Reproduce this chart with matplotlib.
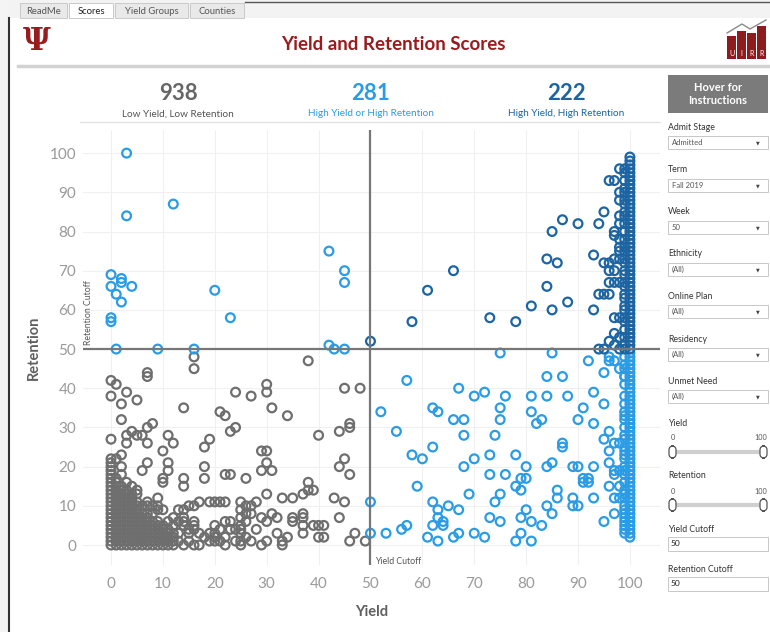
import matplotlib
matplotlib.use("Agg")
import matplotlib.pyplot as plt
from matplotlib.patches import Rectangle, FancyBboxPatch
from matplotlib.lines import Line2D
import numpy as np

plt.rcParams['font.family'] = ['Lato', 'DejaVu Sans']

yield_cutoff = 50
retention_cutoff = 50

kpi_values = ["938", "281", "222"]
kpi_labels = ["Low Yield, Low Retention", "High Yield or High Retention", "High Yield, High Retention"]

# dense stacks of low-yield students (yield value, retention values)
dense_x = [0, 1, 2, 3, 4, 5, 6, 7, 8, 9, 10, 11, 12]
dense_y = [
    [0, 1, 2, 3, 4, 5, 6, 7, 8, 9, 10, 11, 12, 13, 14, 15, 16, 17, 18, 19, 20, 21, 22],
    [0, 1, 2, 3, 4, 5, 6, 7, 8, 9, 10, 11, 12, 13, 14, 15, 16, 17],
    [0, 1, 2, 3, 4, 5, 6, 7, 8, 9, 10, 11, 12, 13, 14, 15],
    [0, 1, 2, 3, 4, 5, 6, 7, 8, 9, 10, 11, 12, 13, 14],
    [0, 1, 2, 3, 4, 5, 6, 7, 8, 9, 10, 11, 12, 13],
    [0, 1, 2, 3, 4, 5, 6, 7, 8, 9, 10, 11, 13],
    [0, 1, 2, 3, 4, 5, 6, 7, 8, 10],
    [0, 1, 2, 3, 4, 5, 6, 7, 8, 10, 11],
    [0, 1, 2, 3, 4, 5, 6, 8],
    [0, 1, 2, 3, 4, 5, 6, 9, 10, 12],
    [0, 1, 2, 3, 4, 5],
    [0, 1, 2, 3, 4, 6],
    [0, 1, 2, 3, 5, 7],
]

# scattered students
other_x = [0, 1, 0, 3, 2, 5, 7, 7, 2, 0, 3, 3, 4, 5, 6, 7, 8, 7, 1, 2, 2, 2, 7, 6,
           10, 11, 12, 11, 11, 10, 10, 14, 14, 14, 18, 19, 18, 18, 21, 22, 23, 24, 22, 23,
           24, 27, 26, 29, 30, 30, 30, 31, 30, 29, 31, 34, 30, 33, 35, 38, 40, 38, 39, 37,
           38, 43, 45, 45, 48, 44, 46, 46, 45, 44, 46, 44, 47, 46, 49, 40, 39, 41, 40, 41,
           35, 35, 37, 37, 37, 37, 34, 33, 32, 33, 29, 30, 32, 31, 30, 29, 16, 16,
           15, 16, 17, 19, 20, 21, 22, 25, 26, 27, 28, 13, 14, 25, 26, 27, 14, 25,
           13, 14, 16, 22, 23, 26, 14, 16, 20, 25, 15, 16, 21, 23, 24, 25, 28,
           13, 15, 17, 19, 20, 25, 18, 20, 22, 26, 13, 15, 19, 20, 21, 24, 25, 27,
           14, 16, 17, 22, 25, 10, 8, 4, 5, 3,
           # top-left (high retention)
           3, 12, 3, 42, 45, 45, 0, 2, 2, 0, 4, 1, 2, 20, 23, 0, 0, 1, 9, 16, 42, 43, 45,
           # right side, low retention
           75, 85, 92, 96, 96, 97, 98, 99, 95, 99, 84, 87, 57, 67, 93, 72, 70, 76, 81, 84,
           88, 95, 52, 62, 63, 75, 81, 91, 66, 68, 75, 83, 82, 90, 93, 55, 68, 74, 96, 95,
           97, 98, 87, 87, 62, 96, 58, 60, 70, 73, 78, 85, 84, 68, 80, 89, 90, 93, 96, 97,
           98, 97, 73, 76, 79, 80, 91, 92, 91, 92, 59, 78, 79, 96, 86, 86, 69, 75, 89, 89,
           90, 93, 98, 50, 62, 74, 65, 84, 63, 63, 67, 80, 85, 97, 64, 64, 62, 57, 56, 73,
           75, 79, 81, 83, 95, 50, 53, 61, 63, 66, 67, 70, 72, 78, 79, 81, 98, 97,
           # high yield, high retention
           50, 58, 61, 66, 73, 78, 81, 84, 86, 84, 85, 85, 88, 87, 90, 94, 95, 93, 93, 94,
           95, 96, 95, 96, 96, 97, 96, 97, 98, 97, 98, 97, 98, 97, 98, 97, 96, 97, 94, 95,
           98, 98, 97, 96, 98, 98, 98, 98, 98, 97, 98, 98]
other_y = [42, 41, 38, 39, 36, 37, 44, 43, 32, 27, 28, 26, 29, 28, 28, 30, 31, 26, 22, 23, 20, 18, 21, 19,
           24, 28, 26, 21, 19, 17, 16, 35, 17, 15, 25, 27, 20, 17, 34, 33, 29, 30, 18, 18,
           39, 38, 17, 24, 24, 41, 39, 35, 21, 19, 19, 33, 13, 12, 12, 47, 28, 16, 14, 13,
           14, 12, 11, 40, 40, 29, 31, 30, 22, 20, 18, 7, 3, 1, 1, 5, 5, 5, 2, 2,
           7, 6, 8, 7, 5, 3, 2, 1, 3, 0, 0, 1, 7, 8, 6, 7, 48, 45,
           10, 10, 11, 11, 11, 11, 11, 11, 10, 10, 11, 9, 9, 9, 8, 8, 7, 7,
           6, 6, 6, 6, 6, 6, 5, 5, 5, 5, 4, 4, 4, 4, 4, 4, 4,
           3, 3, 3, 3, 3, 3, 2, 2, 2, 2, 1, 1, 1, 1, 1, 1, 1, 1,
           0, 0, 0, 0, 0, 9, 10, 15, 14, 16,
           100, 87, 84, 75, 70, 67, 69, 68, 67, 66, 66, 64, 62, 65, 58, 58, 57, 50, 50, 50, 51, 50, 50,
           49, 49, 47, 48, 47, 47, 45, 45, 44, 43, 43, 43, 42, 40, 39, 39, 38, 38, 38, 38,
           38, 36, 34, 35, 34, 35, 34, 35, 32, 32, 32, 32, 31, 32, 31, 29, 28, 28, 29, 27,
           26, 26, 26, 25, 25, 24, 23, 22, 22, 23, 23, 21, 20, 20, 20, 20, 20, 20, 21, 19,
           19, 18, 18, 18, 17, 17, 17, 17, 16, 16, 15, 15, 14, 15, 14, 12, 13, 13, 12, 10,
           10, 12, 12, 11, 11, 11, 10, 10, 9, 7, 9, 9, 8, 8, 6, 5, 5, 5, 4, 7,
           6, 7, 6, 5, 6, 3, 3, 2, 1, 2, 3, 3, 2, 1, 3, 1, 15, 12,
           52, 57, 65, 70, 58, 57, 61, 73, 72, 66, 80, 60, 62, 83, 82, 82, 85, 74, 60, 64,
           64, 64, 72, 72, 70, 70, 67, 67, 67, 73, 73, 80, 78, 58, 58, 54, 52, 51, 50, 50,
           50, 53, 93, 93, 96, 82, 84, 88, 90, 79, 76, 75]

# students stacked at yield 99 and 100
col99_y = [3, 4, 5, 6, 7, 8, 9, 10, 12, 13, 14, 16, 18, 19, 20, 22, 23, 24, 25, 27, 28, 30,
           32, 33, 34, 36, 38, 41, 43, 46, 48,
           50, 51, 53, 55, 57, 58, 60, 61, 63, 64, 66, 67, 69, 70, 72, 73, 75, 76, 78, 80,
           82, 84, 85, 87, 88, 90, 91, 93, 95, 96]
col100_y = [2, 3, 4, 5, 6, 7, 8, 9, 10, 11, 12, 13, 14, 15, 16, 17, 18, 19, 20, 21, 22, 23,
            24, 25, 26, 27, 28, 29, 30, 31, 32, 33, 34, 35, 36, 37, 38, 39, 40, 41, 42, 43,
            44, 45, 46, 47, 48, 49, 50, 51, 52, 53, 54, 55, 56, 57, 58, 59, 60, 61, 62, 63,
            64, 65, 66, 67, 68, 69, 70, 71, 72, 73, 74, 75, 76, 77, 78, 79, 80, 81, 82, 83,
            84, 85, 86, 87, 88, 89, 90, 91, 92, 93, 94, 95, 96, 97, 98, 99]

# filter panel
filter_names = ["Admit Stage", "Term", "Week", "Ethnicity", "Online Plan", "Residency", "Unmet Need"]
filter_values = ["Admitted", "Fall 2019", "50", "(All)", "(All)", "(All)", "(All)"]
slider_names = ["Yield", "Retention"]
cutoff_names = ["Yield Cutoff", "Retention Cutoff"]
cutoff_values = ["50", "50"]

GREY = "#6e6e6e"
LIGHT = "#2a9ce6"
DARK = "#1c65a2"
MAROON = "#991b1e"

W, H = 770, 632


def fx(px):
    return px / W


def fy(py):
    return 1 - py / H


def rect(x0, y0, x1, y1, **kw):
    fig.add_artist(Rectangle((fx(x0), fy(y1)), (x1 - x0) / W, (y1 - y0) / H,
                             transform=fig.transFigure, **kw))


def hline(x0, x1, y, **kw):
    fig.add_artist(Line2D([fx(x0), fx(x1)], [fy(y), fy(y)], transform=fig.transFigure, **kw))


fig = plt.figure(figsize=(7.7, 6.32), dpi=100)
fig.patch.set_facecolor("white")

# left strip from window behind + border
rect(0, 0, 8, 632, facecolor="#f4f4f4", edgecolor="none")
fig.add_artist(Line2D([fx(8.5), fx(8.5)], [fy(18), fy(632)], transform=fig.transFigure,
                      color="#333333", lw=1.5))
rect(8, 0, 770, 18, facecolor="#f3f3f3", edgecolor="none")
hline(245, 770, 1.5, color="#555555", lw=1)

# tabs
tabs = [("ReadMe", 20, 67), ("Scores", 69, 113), ("Yield Groups", 115, 188), ("Counties", 190, 244)]
for name, a, b in tabs:
    active = name == "Scores"
    rect(a, 3, b, 18, facecolor="white" if active else "#e9e9e9", edgecolor="#c9c9c9", lw=0.7)
    fig.text(fx((a + b) / 2), fy(11), name, ha="center", va="center", fontsize=6.8,
             color="#222222" if active else "#555555")

# IU trident logo
fig.text(fx(37), fy(41), "\u03a8", ha="center", va="center", fontsize=22, color=MAROON,
         family="DejaVu Serif", weight="bold")

# title
fig.text(fx(393), fy(44), "Yield and Retention Scores", ha="center", va="center",
         fontsize=13.5, weight="bold", color=MAROON)

# UIRR logo
bars = [(727, 36), (737, 31), (747, 33), (757, 26)]
for i, (bx, top) in enumerate(bars):
    rect(bx, top, bx + 9, 59, facecolor="#8e1b1d", edgecolor="none")
    fig.text(fx(bx + 4.5), fy(53), "UIRR"[i], ha="center", va="center", fontsize=5,
             color="white")
fig.add_artist(Line2D([fx(727), fx(742), fx(750), fx(766)], [fy(33), fy(24), fy(29), fy(20)],
                      transform=fig.transFigure, color="#8a8a8a", lw=1))

# separator
hline(18, 770, 66, color="#d2d2d2", lw=2.5)

# KPI numbers
kpi_colors = ["#666666", LIGHT, DARK]
for cx, val, lab, c in zip([178, 371, 566], kpi_values, kpi_labels, kpi_colors):
    fig.text(fx(cx), fy(93), val, ha="center", va="center", fontsize=16, weight="bold", color=c)
    fig.text(fx(cx), fy(114), lab, ha="center", va="center", fontsize=7.2, color=c if c != "#666666" else "#555555")
hline(80, 660, 122, color="#e3e3e3", lw=1)

# ---- scatter ----
ax = fig.add_axes([fx(83), fy(565), (660 - 83) / W, (565 - 130) / H])

xs, ys = [], []
for x, col in zip(dense_x, dense_y):
    xs += [x] * len(col)
    ys += col
xs += other_x
ys += other_y
xs += [99] * len(col99_y) + [100] * len(col100_y)
ys += col99_y + col100_y
xs = np.array(xs)
ys = np.array(ys)

hi_y = xs >= yield_cutoff
hi_r = ys >= retention_cutoff
groups = [(~hi_y & ~hi_r, GREY), (hi_y ^ hi_r, LIGHT), (hi_y & hi_r, DARK)]
for mask, c in groups:
    ax.scatter(xs[mask], ys[mask], s=40, facecolors="none", edgecolors=c, linewidths=1.6, zorder=3)

ax.axhline(retention_cutoff, color="#777777", lw=1.6, zorder=4)
ax.axvline(yield_cutoff, color="#777777", lw=1.6, zorder=4)
ax.text(-4.4, 51, "Retention Cutoff", rotation=90, ha="center", va="bottom", fontsize=6.3,
        color="#555555")
ax.text(50.9, -4.3, "Yield Cutoff", ha="left", va="center", fontsize=6.3, color="#555555")

ax.set_xlim(-5.4, 105.8)
ax.set_ylim(-5.1, 105.9)
ax.set_xticks(np.arange(0, 101, 10))
ax.set_yticks(np.arange(0, 101, 10))
ax.grid(True, color="#f0f0f0", lw=0.8)
ax.set_axisbelow(True)
for s in ax.spines.values():
    s.set_visible(False)
ax.tick_params(length=0, labelsize=11, labelcolor="#9a9a9a", pad=9)
ax.tick_params(axis="y", pad=5)
ax.set_xlabel("Yield", fontsize=10.5, color="#5f5f5f", weight="bold", labelpad=10)
ax.set_ylabel("Retention", fontsize=10.5, color="#5f5f5f", weight="bold", labelpad=6)

# ---- right filter panel ----
rect(668, 75, 768, 113, facecolor="#7b7b7b", edgecolor="none")
fig.text(fx(718), fy(94), "Hover for\nInstructions", ha="center", va="center", fontsize=8,
         weight="bold", color="white", linespacing=1.15)

label_y = [127, 170, 212, 254, 296, 339, 381]
for name, val, ly in zip(filter_names, filter_values, label_y):
    fig.text(fx(668), fy(ly), name, ha="left", va="center", fontsize=6.3, color="#333333")
    rect(668, ly + 9, 768, ly + 22, facecolor="white", edgecolor="#c8c8c8", lw=0.7)
    fig.text(fx(672), fy(ly + 15.5), val, ha="left", va="center", fontsize=5.5, color="#555555")
    fig.text(fx(758), fy(ly + 15.5), "\u25bc", ha="center", va="center", fontsize=3.5,
             color="#444444", family="DejaVu Sans")

for name, ly in zip(slider_names, [423, 476]):
    fig.text(fx(668), fy(ly), name, ha="left", va="center", fontsize=6.3, color="#333333")
    fig.text(fx(673), fy(ly + 15), "0", ha="center", va="center", fontsize=5.3, color="#555555")
    fig.text(fx(767), fy(ly + 15), "100", ha="right", va="center", fontsize=5.3, color="#555555")
    hline(674, 762, ly + 29, color="#cfcfcf", lw=3)
    for hx in [669, 760]:
        fig.add_artist(FancyBboxPatch((fx(hx), fy(ly + 35)), 7 / W, 12 / H,
                                      boxstyle="round,pad=0,rounding_size=0.006",
                                      transform=fig.transFigure, facecolor="white",
                                      edgecolor="#555555", lw=0.9, zorder=5))

for name, val, ly in zip(cutoff_names, cutoff_values, [529, 569]):
    fig.text(fx(668), fy(ly), name, ha="left", va="center", fontsize=6.3, color="#333333")
    rect(668, ly + 8, 768, ly + 22, facecolor="white", edgecolor="#c8c8c8", lw=0.7)
    fig.text(fx(671), fy(ly + 15), val, ha="left", va="center", fontsize=6, color="#222222")

fig.savefig("out.png", dpi=100)
